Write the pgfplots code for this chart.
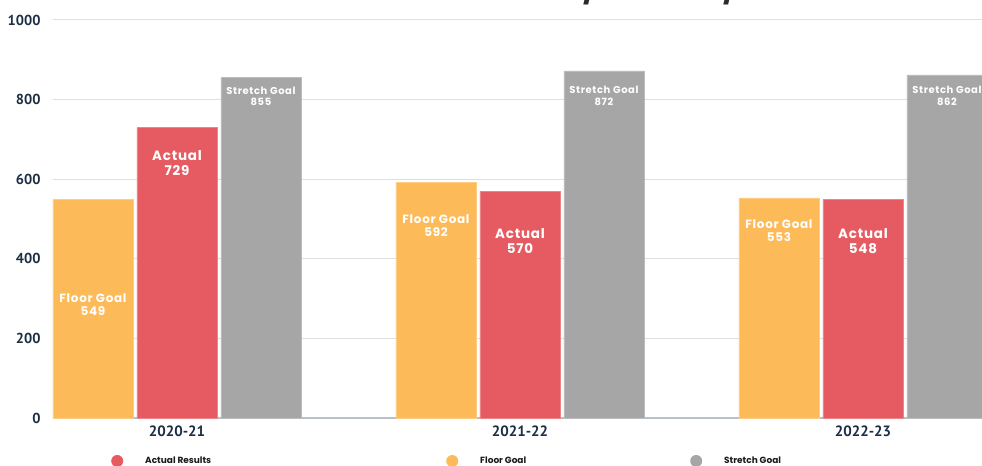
\documentclass[border=0pt]{standalone}
\usepackage{fontspec}
\setmainfont{Lato}
\newfontfamily\tickfont{PT Sans}
\newfontfamily\titlefont{Poppins}
\newfontfamily\labelfont{Poppins}[LetterSpace=6]
\usepackage{pgfplots}
\pgfplotsset{compat=1.18}
\usepackage{pgfplotstable}

\definecolor{floorc}{HTML}{FDBA58}
\definecolor{actualc}{HTML}{E65B61}
\definecolor{stretchc}{HTML}{A6A6A6}
\definecolor{ticktext}{HTML}{1C2E44}
\definecolor{gridc}{HTML}{DDE0E3}
\definecolor{axisc}{HTML}{B7C1CB}
\definecolor{titlec}{HTML}{2A2A2A}
\definecolor{legtext}{HTML}{1A1A1A}

% x = group index, y = value, dy = label offset from bar top (bp)
\pgfplotstableread{
x y dy
0 549 -105.5
1 592 -43
2 553 -33
}\floordata
\pgfplotstableread{
x y dy
0 729 -35
1 570 -50
2 548 -41
}\actualdata
\pgfplotstableread{
x y dy
0 855 -18.5
1 872 -25
2 862 -21
}\stretchdata

\begin{document}
\begin{tikzpicture}
\begin{axis}[
  scale only axis, width=929bp, height=398bp,
  xmin=-0.3615, xmax=2.347, ymin=0, ymax=1000,
  ytick={0,200,...,1000},
  xtick={0,1,2}, xticklabels={2020-21,2021-22,2022-23},
  ymajorgrids, grid style={gridc, line width=1bp},
  axis lines*=left, separate axis lines,
  x axis line style={axisc, line width=1.5bp},
  y axis line style={draw=none},
  major tick length=0pt, tick style={draw=none},
  /pgf/number format/assume math mode=true,
  /pgf/number format/1000 sep={},
  yticklabel style={font=\tickfont\bfseries\fontsize{14.5}{16}\selectfont, text=ticktext, xshift=-9bp},
  xticklabel style={font=\tickfont\bfseries\fontsize{15}{17}\selectfont, text=ticktext, yshift=-4bp},
  bar width=80bp,
  legend columns=3,
  legend style={at={(0,0)}, anchor=west, xshift=58bp, yshift=-43bp,
    draw=none, fill=none, inner sep=0pt,
    font=\titlefont\bfseries\fontsize{9}{11}\selectfont, text=legtext,
    nodes={inner sep=1pt},
    /tikz/every odd column/.append style={column sep=21bp},
    /tikz/column 2/.style={column sep=234bp},
    /tikz/column 4/.style={column sep=163bp}},
  legend cell align=left,
]
\coordinate (ll) at (rel axis cs:0,0);
\coordinate (ur) at (rel axis cs:1,1);
\coordinate (tl) at (rel axis cs:0,1);

\addplot[ybar, bar shift=-84bp, fill=floorc, draw=floorc!75!white, line width=0.8bp, forget plot,
  visualization depends on={\thisrow{dy} \as \dy},
  nodes near coords={Floor Goal\\\pgfmathprintnumber{\pgfplotspointmeta}},
  nodes near coords style={anchor=center, xshift=-84bp, yshift=\dy*1bp, align=center, text=white,
    font=\labelfont\bfseries\fontsize{12}{13}\selectfont}]
  table[x=x, y=y] {\floordata};
\addplot[ybar, bar shift=0bp, fill=actualc, draw=actualc!75!white, line width=0.8bp, forget plot,
  visualization depends on={\thisrow{dy} \as \dy},
  nodes near coords={Actual\\\pgfmathprintnumber{\pgfplotspointmeta}},
  nodes near coords style={anchor=center, yshift=\dy*1bp, align=center, text=white,
    font=\labelfont\bfseries\fontsize{13.5}{15}\selectfont}]
  table[x=x, y=y] {\actualdata};
\addplot[ybar, bar shift=84bp, fill=stretchc, draw=stretchc!75!white, line width=0.8bp, forget plot,
  visualization depends on={\thisrow{dy} \as \dy},
  nodes near coords={Stretch Goal\\\pgfmathprintnumber{\pgfplotspointmeta}},
  nodes near coords style={anchor=center, xshift=84bp, yshift=\dy*1bp, align=center, text=white,
    font=\labelfont\bfseries\fontsize{10}{11.5}\selectfont}]
  table[x=x, y=y] {\stretchdata};

\addlegendimage{draw=none, fill=actualc, legend image code/.code={\fill (0bp,0bp) circle (6bp);}}
\addlegendentry{Actual Results}
\addlegendimage{draw=none, fill=floorc, legend image code/.code={\fill (0bp,0bp) circle (6bp);}}
\addlegendentry{Floor Goal}
\addlegendimage{draw=none, fill=stretchc, legend image code/.code={\fill (0bp,0bp) circle (6bp);}}
\addlegendentry{Stretch Goal}
\end{axis}
\node[anchor=base, font=\titlefont\bfseries\fontsize{29.5}{34}\selectfont, text=titlec]
  at ([shift={(444bp,20.6bp)}]tl) {Certificate Awards 2020/21 - 2022/23};
\pgfresetboundingbox
\path[use as bounding box] ([shift={(-53bp,-48bp)}]ll) rectangle ([shift={(0bp,20bp)}]ur);
\end{tikzpicture}
\end{document}
